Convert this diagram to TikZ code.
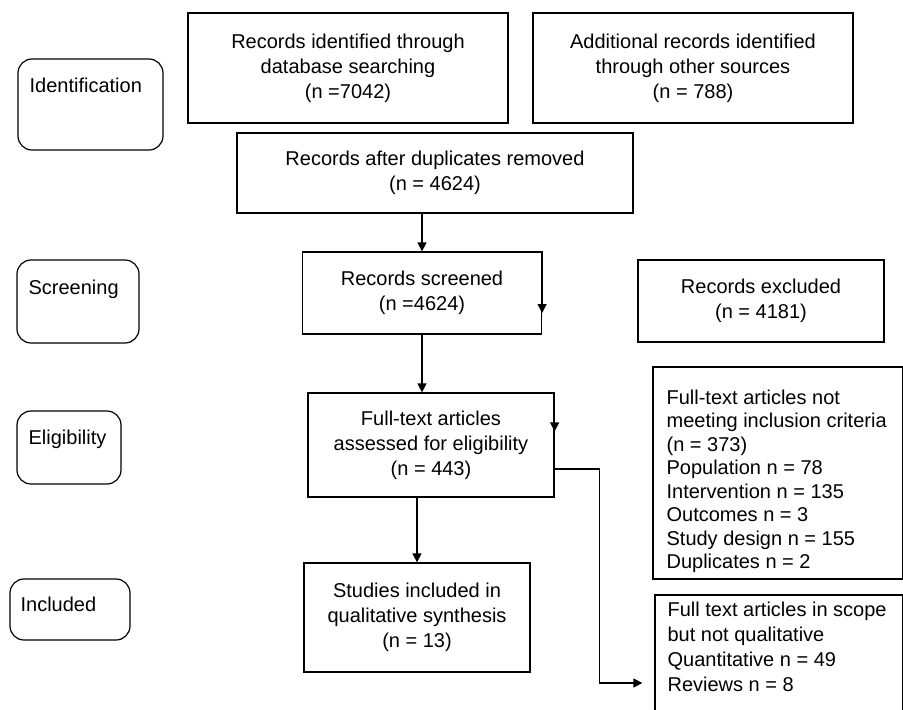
\documentclass[tikz,border=0pt]{standalone}
\usepackage{fontspec}
\setmainfont{Liberation Sans}
\usetikzlibrary{arrows.meta}

\tikzset{
  box/.style={draw, line width=1.2pt, inner sep=0pt, align=center,
    font=\fontsize{20}{25}\selectfont},
  stage/.style={box, rounded corners=14pt},
  txt/.style={inner sep=0pt, align=left, font=\fontsize{20}{25}\selectfont},
  arr/.style={line width=1.2pt, -{Triangle[length=9pt,width=9pt]}},
}

\begin{document}
\begin{tikzpicture}[x=1pt,y=-1pt]
    \useasboundingbox (0,0) rectangle (903,710);

    % stages on the left
    \node[stage, minimum width=145pt, minimum height=91pt] (ident)  at (90.5,104.5) {};
    \node[stage, minimum width=122pt, minimum height=83pt] (screen) at (78,301.5)   {};
    \node[stage, minimum width=104pt, minimum height=73pt] (elig)   at (69,447.5)   {};
    \node[stage, minimum width=120pt, minimum height=61pt] (incl)   at (70,609.5)   {};

    \node[txt, anchor=base west] (identlbl)  at ([shift={(12,34)}]ident.north west)  {Identification};
    \node[txt, anchor=base west] (screenlbl) at ([shift={(12,35)}]screen.north west) {Screening};
    \node[txt, anchor=base west] (eliglbl)   at ([shift={(12,34)}]elig.north west)   {Eligibility};
    \node[txt, anchor=base west] (incllbl)   at ([shift={(11,33)}]incl.north west)   {Included};

    % flow boxes
    \node[box, minimum width=320pt, minimum height=110pt] (db)    at (348,68)
        {Records identified through\\database searching\\(n =7042)};
    \node[box, minimum width=320pt, minimum height=110pt] (other) at (693,68)
        {Additional records identified\\through other sources\\(n = 788)};
    \node[box, minimum width=396pt, minimum height=80pt]  (dup)   at (435,173)
        {Records after duplicates removed\\(n = 4624)};
    \node[box, minimum width=239pt, minimum height=82pt]  (screened) at (422,293)
        {Records screened\\(n =4624)};
    \node[box, minimum width=246pt, minimum height=82pt]  (excluded) at (761,301)
        {Records excluded\\(n = 4181)};
    \node[box, minimum width=246pt, minimum height=104pt] (fulltext) at (431,445)
        {Full-text articles\\assessed for eligibility\\(n = 443)};
    \node[box, minimum width=226pt, minimum height=109pt] (studies)  at (417,617.5)
        {Studies included in\\qualitative synthesis\\(n = 13)};

    % boxes with left aligned lists
    \node[box, minimum width=250pt, minimum height=212pt] (criteria) at (778,473) {};
    \node[box, minimum width=248pt, minimum height=130pt] (inscope)  at (779,660) {};

    \node[txt, anchor=north west, font=\fontsize{20}{23.5}\selectfont] (criterialbl)
        at ([shift={(14,23)}]criteria.north west)
        {Full-text articles not\\meeting inclusion criteria\\(n = 373)\\Population n = 78\\
         Intervention n = 135\\Outcomes n = 3\\Study design n = 155\\Duplicates n = 2};
    \node[txt, anchor=north west] (inscopelbl)  at ([shift={(13,7)}]inscope.north west)
        {Full text articles in scope\\but not qualitative\\Quantitative n = 49\\Reviews n = 8};

    % connectors
    \coordinate (scrtip) at ([shift={(0,20)}]screened.east);
    \coordinate (fttip)  at ([shift={(0,39)}]fulltext.north east);
    \coordinate (ftout)  at ([shift={(0,24)}]fulltext.east);
    \coordinate (intip)  at ([shift={(0,23)}]inscope.west);

    \draw[arr] (dup.south -| screened.north) -- (screened.north);
    \draw[arr] (screened.south) -- (screened.south |- fulltext.north);
    \draw[arr] (fulltext.south -| studies.north) -- (studies.north);

    \draw[arr] (screened.north east) -- (scrtip);
    \draw[arr] (fulltext.north east) -- (fttip);
    \draw[arr, shorten >=12pt] (ftout) -- ++(45,0) |- (intip);

\end{tikzpicture}
\end{document}
